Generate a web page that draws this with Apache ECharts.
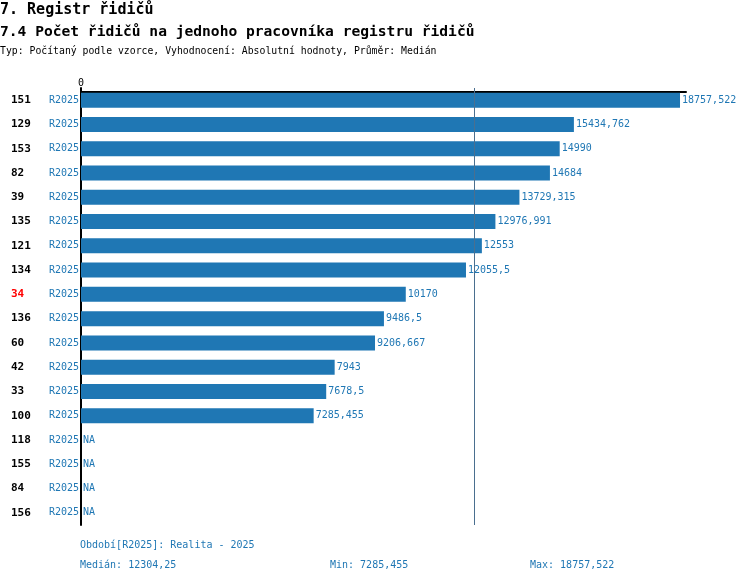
<!DOCTYPE html>
<html lang="cs">

<head>
    <meta charset="UTF-8">
    <title>7.4 Počet řidičů na jednoho pracovníka registru řidičů</title>
    <script src="https://cdn.jsdelivr.net/npm/echarts@6/dist/echarts.min.js"></script>
    <style>
        html, body { margin: 0; padding: 0; background: #fff; }
    </style>
</head>

<body>
    <div id="main" style="width: 750px;height: 584px;"></div>

    <script>
        // data
        var ids = ['151', '129', '153', '82', '39', '135', '121', '134', '34', '136', '60', '42', '33', '100', '118', '155', '84', '156'];
        var periods = ['R2025', 'R2025', 'R2025', 'R2025', 'R2025', 'R2025', 'R2025', 'R2025', 'R2025', 'R2025', 'R2025', 'R2025', 'R2025', 'R2025', 'R2025', 'R2025', 'R2025', 'R2025'];
        var values = [18757.522, 15434.762, 14990, 14684, 13729.315, 12976.991, 12553, 12055.5, 10170, 9486.5, 9206.667, 7943, 7678.5, 7285.455, null, null, null, null];
        var highlighted = ['34'];

        var blue = '#1f77b4';
        var font = '"DejaVu Sans Mono", "Liberation Mono", monospace';

        function fmt(v) {
            return String(v).replace('.', ',');
        }

        // median / min / max z hodnot
        var known = values.filter(function (v) { return v !== null; }).sort(function (a, b) { return a - b; });
        var n = known.length;
        var median = n % 2 ? known[(n - 1) / 2] : (known[n / 2 - 1] + known[n / 2]) / 2;
        var minV = known[0];
        var maxV = known[n - 1];
        var axisMax = maxV * 1.01;

        function txt(text, left, top, size, weight, color) {
            return {
                text: text, left: left, top: top, padding: 0,
                textStyle: { fontFamily: font, fontSize: size, fontWeight: weight, color: color }
            };
        }

        var myChart = echarts.init(document.getElementById('main'));

        var option = {
            animation: false,
            textStyle: { fontFamily: font },
            title: [
                txt('7. Registr řidičů', 0, 3, 15, 'bold', '#000'),
                txt('7.4 Počet řidičů na jednoho pracovníka registru řidičů', 0, 25, 14.6, 'bold', '#000'),
                txt('Typ: Počítaný podle vzorce, Vyhodnocení: Absolutní hodnoty, Průměr: Medián', 0, 46, 9.8, 'normal', '#000'),
                txt('Období[' + periods[0] + ']: Realita - 2025', 80, 540, 10, 'normal', blue),
                txt('Medián: ' + fmt(median), 80, 560, 10, 'normal', blue),
                txt('Min: ' + fmt(minV), 330, 560, 10, 'normal', blue),
                txt('Max: ' + fmt(maxV), 530, 560, 10, 'normal', blue)
            ],
            grid: {
                left: 81,
                top: 88,
                width: 605,
                height: 437,
                containLabel: false
            },
            xAxis: {
                type: 'value',
                position: 'top',
                min: 0,
                max: axisMax,
                interval: axisMax,
                offset: -4,
                axisLine: { show: true, lineStyle: { color: '#000', width: 2 } },
                axisTick: { show: false },
                splitLine: { show: false },
                axisLabel: {
                    showMaxLabel: false,
                    margin: 4,
                    fontFamily: font,
                    fontSize: 10,
                    color: '#000'
                }
            },
            yAxis: {
                type: 'category',
                inverse: true,
                data: ids,
                axisLine: { show: true, lineStyle: { color: '#000', width: 2 } },
                axisTick: { show: false },
                axisLabel: {
                    margin: 2,
                    formatter: function (v, i) {
                        var s = highlighted.indexOf(v) >= 0 ? 'r' : 'b';
                        return '{' + s + '|' + v + '}{p|' + periods[i] + '}';
                    },
                    rich: {
                        b: { width: 37, align: 'left', fontFamily: font, fontSize: 11, fontWeight: 'bold', color: '#000' },
                        r: { width: 37, align: 'left', fontFamily: font, fontSize: 11, fontWeight: 'bold', color: '#ff0000' },
                        p: { width: 31, align: 'right', fontFamily: font, fontSize: 10, color: blue }
                    }
                }
            },
            series: [{
                type: 'bar',
                data: values.map(function (v) { return v === null ? 0 : v; }),
                barWidth: 15,
                itemStyle: { color: blue },
                label: {
                    show: true,
                    position: 'right',
                    distance: 2,
                    fontFamily: font,
                    fontSize: 10,
                    color: blue,
                    formatter: function (p) {
                        var v = values[p.dataIndex];
                        return v === null ? 'NA' : fmt(v);
                    }
                },
                markLine: {
                    silent: true,
                    symbol: 'none',
                    label: { show: false },
                    lineStyle: { color: '#4a6f8f', width: 1, type: 'solid' },
                    data: [{ xAxis: median }]
                }
            }]
        };

        myChart.setOption(option);
    </script>
</body>

</html>
